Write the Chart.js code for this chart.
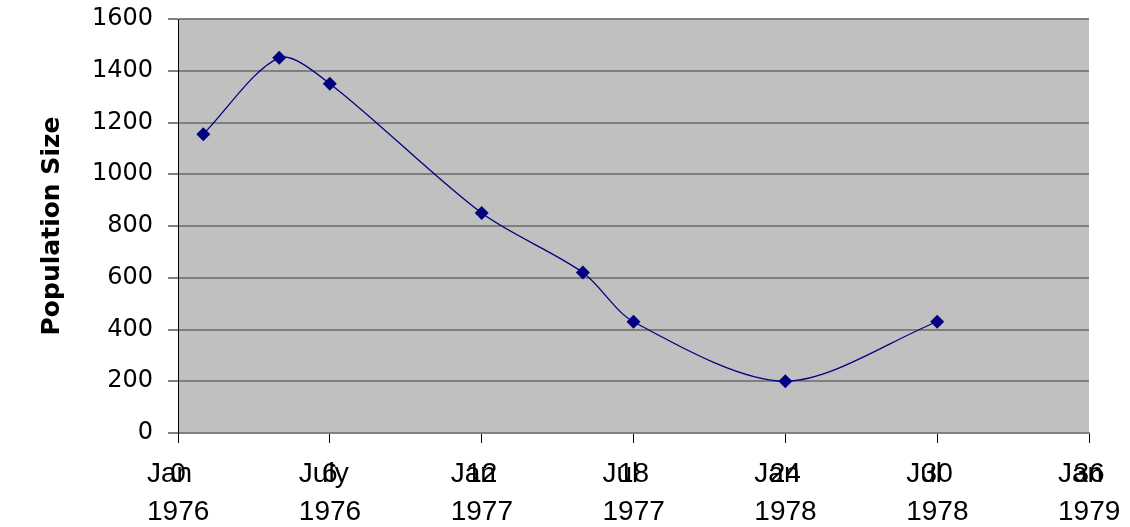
<!DOCTYPE html>
<html>
<head>
<meta charset="utf-8">
<script src="https://cdn.jsdelivr.net/npm/chart.js@4/dist/chart.umd.min.js"></script>
<style>
  html, body { margin: 0; padding: 0; background: #ffffff; }
  #c { display: block; }
</style>
</head>
<body>
<canvas id="c" width="1130" height="527"></canvas>
<script>
// Data
const months = [1, 4, 6, 12, 16, 18, 24, 30];
const population = [1155, 1450, 1350, 850, 620, 430, 200, 430];
const tickMonths = [0, 6, 12, 18, 24, 30, 36];
const tickMonthNames = ['Jan', 'July', 'Jan', 'Jul', 'Jan', 'Jul', 'Jan'];
const tickYears = ['1976', '1976', '1977', '1977', '1978', '1978', '1979'];
const yTitle = 'Population Size';

const X_FONT = { family: "'Liberation Sans', Arial, sans-serif", size: 28, lineHeight: 1.34 };
const X_TICK_LEN = 10;
const X_PAD = 13;

const plotBg = {
  id: 'plotBg',
  beforeDraw(chart) {
    const { ctx, chartArea: a } = chart;
    ctx.save();
    ctx.fillStyle = '#c0c0c0';
    ctx.fillRect(a.left, a.top, a.right - a.left, a.bottom - a.top);
    ctx.restore();
  }
};

// Overlapping month-index numbers drawn at each x tick (as in the reference)
const monthNumbers = {
  id: 'monthNumbers',
  afterDraw(chart) {
    const sx = chart.scales.x;
    const ctx = chart.ctx;
    ctx.save();
    ctx.font = X_FONT.size + 'px ' + X_FONT.family;
    ctx.fillStyle = '#000000';
    ctx.textAlign = 'center';
    ctx.textBaseline = 'middle';
    const y = sx.top + X_TICK_LEN + X_PAD + (X_FONT.size * X_FONT.lineHeight) / 2;
    tickMonths.forEach(m => {
      ctx.fillText(String(m), sx.getPixelForValue(m), y);
    });
    ctx.restore();
  }
};

new Chart(document.getElementById('c'), {
  type: 'line',
  data: {
    datasets: [{
      data: months.map((m, i) => ({ x: m, y: population[i] })),
      borderColor: '#000080',
      borderWidth: 1.3,
      backgroundColor: '#000080',
      pointStyle: 'rectRot',
      pointRadius: 7,
      pointBorderWidth: 0,
      pointBackgroundColor: '#000080',
      pointBorderColor: '#000080',
      tension: 0.3,
      fill: false
    }]
  },
  options: {
    responsive: false,
    animation: false,
    events: [],
    layout: { padding: { top: 19, right: 41, left: 0, bottom: 0 } },
    plugins: {
      legend: { display: false },
      tooltip: { enabled: false }
    },
    scales: {
      x: {
        type: 'linear',
        min: 0,
        max: 36,
        afterBuildTicks(scale) {
          scale.ticks = tickMonths.map(v => ({ value: v }));
        },
        afterFit(scale) {
          scale.height = 94;
          scale.paddingLeft = 0;
          scale.paddingRight = 0;
        },
        ticks: {
          autoSkip: false,
          maxRotation: 0,
          minRotation: 0,
          align: 'start',
          labelOffset: -31,
          padding: X_PAD,
          color: '#000000',
          font: X_FONT,
          callback(value) {
            const i = tickMonths.indexOf(value);
            return i >= 0 ? [tickMonthNames[i], tickYears[i]] : '';
          }
        },
        grid: {
          drawOnChartArea: false,
          drawTicks: true,
          tickLength: X_TICK_LEN,
          tickColor: '#000000',
          tickWidth: 1
        },
        border: { display: true, color: '#808080', width: 2 }
      },
      y: {
        min: 0,
        max: 1600,
        afterFit(scale) {
          scale.width = 178;
          scale.paddingTop = 0;
          scale.paddingBottom = 0;
        },
        ticks: {
          stepSize: 200,
          padding: 15,
          color: '#000000',
          font: { family: "'DejaVu Sans', sans-serif", size: 24 },
          callback(value) { return String(value); }
        },
        grid: {
          color: '#7f7f7f',
          lineWidth: 2,
          drawTicks: true,
          tickLength: 10,
          tickColor: '#000000',
          tickWidth: 1
        },
        border: { display: true, color: '#000000', width: 1 },
        title: {
          display: true,
          text: yTitle,
          color: '#000000',
          font: { family: "'DejaVu Sans', sans-serif", size: 25, weight: 'bold', lineHeight: 1.2 },
          padding: { top: 37, bottom: 0 }
        }
      }
    }
  },
  plugins: [plotBg, monthNumbers]
});
</script>
</body>
</html>
